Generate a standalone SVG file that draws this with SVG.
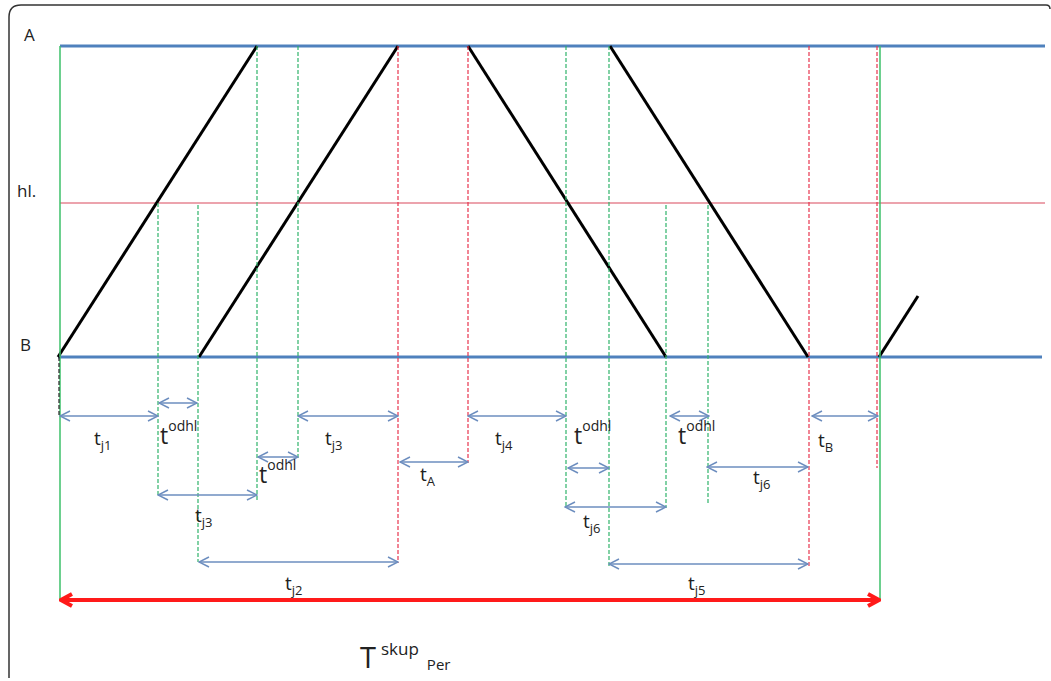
<svg xmlns="http://www.w3.org/2000/svg" width="1051" height="681" viewBox="0 0 1051 681">
<style>
text{font-family:"Open Sans","Noto Sans","DejaVu Sans",sans-serif;fill:#222;font-size:19px}
.lab{font-size:17px}
.od{font-size:23px}
.sub{font-size:13px}
.sup{font-size:14px}
.big-t{font-size:29px}
.lvl{stroke:#4f81bd;stroke-width:3;fill:none}
.hl{stroke:#d9485c;stroke-width:1.2;fill:none}
.ramp{stroke:#000;stroke-width:3;fill:none}
.gs{stroke:#3cc06a;stroke-width:1.5;fill:none}
.gd{stroke:#2fb36a;stroke-width:1.2;stroke-dasharray:4 2;fill:none}
.rd{stroke:#e8344e;stroke-width:1.2;stroke-dasharray:4 2;fill:none}
.kd{stroke:#222;stroke-width:1.2;stroke-dasharray:4 2;fill:none}
.dim{stroke:#6d8ebf;stroke-width:1.5;fill:none;marker-start:url(#ah);marker-end:url(#ah)}
.big{stroke:#ff1a1a;stroke-width:4;fill:none;marker-start:url(#rh);marker-end:url(#rh)}
</style>
<defs>
<marker id="ah" viewBox="0 0 12 12" refX="11" refY="6" markerWidth="12" markerHeight="12" markerUnits="userSpaceOnUse" orient="auto-start-reverse">
<path d="M1,1 L11,6 L1,11" fill="none" stroke="#6d8ebf" stroke-width="1.5"/>
</marker>
<marker id="rh" viewBox="0 0 16 16" refX="14" refY="8" markerWidth="16" markerHeight="16" markerUnits="userSpaceOnUse" orient="auto-start-reverse">
<path d="M3,2 L14,8 L3,14" fill="none" stroke="#ff1a1a" stroke-width="4"/>
</marker>
</defs>
<rect width="1051" height="681" fill="#fff"/>
<path d="M9,678 V17 Q9,5 21,5 H1046 Q1050,5 1050,9" fill="none" stroke="#333" stroke-width="1.5"/>

<g id="levels">
<line class="lvl" x1="60" y1="46" x2="1045" y2="46"/>
<line class="hl" x1="60" y1="203" x2="1045" y2="203"/>
<line class="lvl" x1="58" y1="357" x2="1042" y2="357"/>
<text class="lab" x="24" y="41">A</text>
<text class="lab" x="17" y="197">hl.</text>
<text class="lab" x="20" y="351">B</text>
</g>

<g id="ramps">
<line class="ramp" x1="58" y1="357" x2="257" y2="46"/>
<line class="ramp" x1="199" y1="357" x2="398" y2="46"/>
<line class="ramp" x1="468" y1="46" x2="666" y2="357"/>
<line class="ramp" x1="610" y1="46" x2="808" y2="357"/>
<line class="ramp" x1="879" y1="357" x2="918" y2="296"/>
</g>

<g id="guides">
<line class="gs" x1="60" y1="46" x2="60" y2="600"/>
<line class="gs" x1="880" y1="46" x2="880" y2="600"/>
<line class="kd" x1="59" y1="357" x2="59" y2="416"/>
<line class="gd" x1="158" y1="203" x2="158" y2="497"/>
<line class="gd" x1="198" y1="205" x2="198" y2="562"/>
<line class="gd" x1="257" y1="46" x2="257" y2="502"/>
<line class="gd" x1="298" y1="46" x2="298" y2="458"/>
<line class="rd" x1="398" y1="46" x2="398" y2="563"/>
<line class="rd" x1="468" y1="46" x2="468" y2="463"/>
<line class="gd" x1="566" y1="46" x2="566" y2="508"/>
<line class="gd" x1="609" y1="46" x2="609" y2="566"/>
<line class="gd" x1="666" y1="205" x2="666" y2="508"/>
<line class="gd" x1="708" y1="205" x2="708" y2="504"/>
<line class="rd" x1="809" y1="46" x2="809" y2="566"/>
<line class="rd" x1="877" y1="46" x2="877" y2="468"/>
</g>

<g id="connectors">
<line class="dim" x1="60" y1="416" x2="158" y2="416"/>
<line class="dim" x1="159" y1="403" x2="197" y2="403"/>
<line class="dim" x1="298" y1="416" x2="398" y2="416"/>
<line class="dim" x1="258" y1="457" x2="298" y2="457"/>
<line class="dim" x1="158" y1="495" x2="257" y2="495"/>
<line class="dim" x1="199" y1="562" x2="398" y2="562"/>
<line class="dim" x1="400" y1="462" x2="468" y2="462"/>
<line class="dim" x1="468" y1="416" x2="566" y2="416"/>
<line class="dim" x1="568" y1="468" x2="609" y2="468"/>
<line class="dim" x1="565" y1="507" x2="666" y2="507"/>
<line class="dim" x1="670" y1="416" x2="709" y2="416"/>
<line class="dim" x1="707" y1="467" x2="808" y2="467"/>
<line class="dim" x1="609" y1="564" x2="808" y2="564"/>
<line class="dim" x1="812" y1="416" x2="878" y2="416"/>
<line class="big" x1="61" y1="600" x2="879" y2="600"/>
</g>

<g id="labels">
<text x="94" y="445">t<tspan class="sub" dy="5">j1</tspan></text>
<text class="od" x="160" y="444">t<tspan class="sup" dy="-13">odhl</tspan></text>
<text x="325" y="445">t<tspan class="sub" dy="5">j3</tspan></text>
<text class="od" x="259" y="483">t<tspan class="sup" dy="-13">odhl</tspan></text>
<text x="195" y="522">t<tspan class="sub" dy="5">j3</tspan></text>
<text x="420" y="481">t<tspan class="sub" dy="5">A</tspan></text>
<text x="495" y="445">t<tspan class="sub" dy="5">j4</tspan></text>
<text class="od" x="574" y="444">t<tspan class="sup" dy="-13">odhl</tspan></text>
<text class="od" x="678" y="444">t<tspan class="sup" dy="-13">odhl</tspan></text>
<text x="583" y="528">t<tspan class="sub" dy="5">j6</tspan></text>
<text x="753" y="484">t<tspan class="sub" dy="5">j6</tspan></text>
<text x="818" y="447">t<tspan class="sub" dy="5">B</tspan></text>
<text x="285" y="590">t<tspan class="sub" dy="5">j2</tspan></text>
<text x="688" y="590">t<tspan class="sub" dy="5">j5</tspan></text>
<text class="big-t" x="360" y="668">T<tspan font-size="17" dx="5" dy="-13">skup</tspan><tspan font-size="15" dx="8" dy="15">Per</tspan></text>
</g>
</svg>
